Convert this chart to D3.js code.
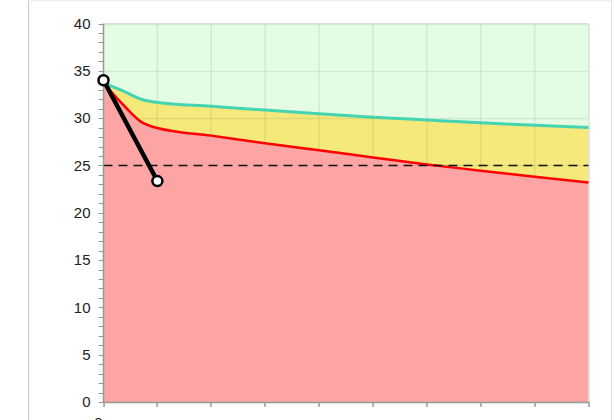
<!DOCTYPE html>
<html>
<head>
<meta charset="utf-8">
<script src="https://cdn.jsdelivr.net/npm/d3@7"></script>
<style>
html,body{margin:0;padding:0;background:#fff;}
svg{display:block;font-family:"Liberation Sans",Arial,sans-serif;}
</style>
</head>
<body>
<svg id="chart" width="613" height="420"></svg>
<script>
// ---- data ----
const xValues   = [0, 0.35, 0.7, 1, 2, 3, 4, 5, 6, 7, 8, 9];
const upperLine = [33.7, 32.9, 32.0, 31.65, 31.25, 30.85, 30.45, 30.1, 29.8, 29.5, 29.25, 29.0];
const lowerLine = [33.7, 31.5, 29.6, 28.95, 28.15, 27.35, 26.6, 25.85, 25.1, 24.45, 23.8, 23.2];
const trackX    = [0, 1];
const trackY    = [34, 23.35];
const threshold = 25;
const yTicks    = [0, 5, 10, 15, 20, 25, 30, 35, 40];
const yMinorTicks = d3.range(0, 41, 1);
const xTicks    = [0, 1, 2, 3, 4, 5, 6, 7, 8, 9];
const xTickLabels = ["0"];
const yMax = 40;

const svg = d3.select("#chart");
const x = d3.scaleLinear().domain([0, 9]).range([103.5, 588.5]);
const y = d3.scaleLinear().domain([0, yMax]).range([402, 23.5]);

// page frame
svg.append("line").attr("x1",28.5).attr("x2",28.5).attr("y1",0).attr("y2",420).attr("stroke","#c8c8c8");
svg.append("line").attr("x1",611.5).attr("x2",611.5).attr("y1",0).attr("y2",420).attr("stroke","#e2e2e2");
svg.append("line").attr("x1",28).attr("x2",612).attr("y1",0.5).attr("y2",0.5).attr("stroke","#eeeeee");

const data = xValues.map((d,i)=>({x:d, up:upperLine[i], lo:lowerLine[i]}));
const curve = d3.curveMonotoneX;

// green area (above upper line)
svg.append("path").datum(data)
  .attr("fill","#e3fce3")
  .attr("d", d3.area().curve(curve).x(d=>x(d.x)).y0(y(yMax)).y1(d=>y(d.up)));
// yellow band
svg.append("path").datum(data)
  .attr("fill","#f5e97b")
  .attr("d", d3.area().curve(curve).x(d=>x(d.x)).y0(d=>y(d.lo)).y1(d=>y(d.up)));

// grid
const grid = svg.append("g").attr("stroke","rgba(40,90,40,0.10)").attr("stroke-width",1.5);
yTicks.filter(t=>t>0).forEach(t=>{
  grid.append("line").attr("x1",x(0)).attr("x2",x(9)).attr("y1",Math.round(y(t))+0.5).attr("y2",Math.round(y(t))+0.5);
});
xTicks.filter(t=>t>0 && t<9).forEach(t=>{
  grid.append("line").attr("x1",x(t)).attr("x2",x(t)).attr("y1",y(yMax)).attr("y2",y(0));
});

// red area
svg.append("path").datum(data)
  .attr("fill","#fca5a4")
  .attr("d", d3.area().curve(curve).x(d=>x(d.x)).y0(y(0)).y1(d=>y(d.lo)));

// plot frame top/right
svg.append("line").attr("x1",x(0)).attr("x2",x(9)).attr("y1",y(yMax)).attr("y2",y(yMax)).attr("stroke","#dcdcdc");
svg.append("line").attr("x1",x(9)+0.5).attr("x2",x(9)+0.5).attr("y1",y(yMax)).attr("y2",y(0)).attr("stroke","#dcdcdc").attr("stroke-width",1.5);

// lines
svg.append("path").datum(data)
  .attr("fill","none").attr("stroke","#45d4b0").attr("stroke-width",3)
  .attr("d", d3.line().curve(curve).x(d=>x(d.x)).y(d=>y(d.up)));
svg.append("path").datum(data)
  .attr("fill","none").attr("stroke","#ff0000").attr("stroke-width",2.5)
  .attr("d", d3.line().curve(curve).x(d=>x(d.x)).y(d=>y(d.lo)));

// threshold
svg.append("line").attr("x1",x(0)).attr("x2",x(9)).attr("y1",y(threshold)).attr("y2",y(threshold))
  .attr("stroke","#111").attr("stroke-width",1.5).attr("stroke-dasharray","9,6");

// y axis
const yAxisG = svg.append("g").attr("transform",`translate(${x(0)},0)`);
yAxisG.append("line").attr("x1",0).attr("x2",0).attr("y1",y(yMax)).attr("y2",y(0)).attr("stroke","#999").attr("stroke-width",1.5);
yMinorTicks.forEach(t=>{
  yAxisG.append("line").attr("x1",-5).attr("x2",0).attr("y1",Math.round(y(t))+0.5).attr("y2",Math.round(y(t))+0.5).attr("stroke","#999");
});
yTicks.forEach(t=>{
  yAxisG.append("text").attr("x",-13).attr("y",y(t)).attr("dy","0.35em")
    .attr("text-anchor","end").attr("font-size",15).attr("fill","#222").text(t);
});

// x axis
const xAxisG = svg.append("g").attr("transform",`translate(0,${y(0)})`);
xAxisG.append("line").attr("x1",x(0)).attr("x2",x(9)+1).attr("y1",0.5).attr("y2",0.5).attr("stroke","#999").attr("stroke-width",1.5);
xTicks.forEach(t=>{
  xAxisG.append("line").attr("x1",Math.round(x(t))).attr("x2",Math.round(x(t))).attr("y1",0).attr("y2",5).attr("stroke","#999").attr("stroke-width",1.5);
});
xTickLabels.forEach((lab,i)=>{
  xAxisG.append("text").attr("x",x(xTicks[i])-5).attr("y",26).attr("text-anchor","middle")
    .attr("font-size",15).attr("fill","#222").text(lab);
});

// track line with endpoints
const track = trackX.map((d,i)=>({x:d, y:trackY[i]}));
svg.append("path").datum(track)
  .attr("fill","none").attr("stroke","#000").attr("stroke-width",4.5)
  .attr("d", d3.line().x(d=>x(d.x)).y(d=>y(d.y)));
svg.selectAll("circle.pt").data(track).enter().append("circle")
  .attr("cx",d=>x(d.x)).attr("cy",d=>y(d.y)).attr("r",5)
  .attr("fill","#fff").attr("stroke","#000").attr("stroke-width",2.5);
</script>
</body>
</html>
